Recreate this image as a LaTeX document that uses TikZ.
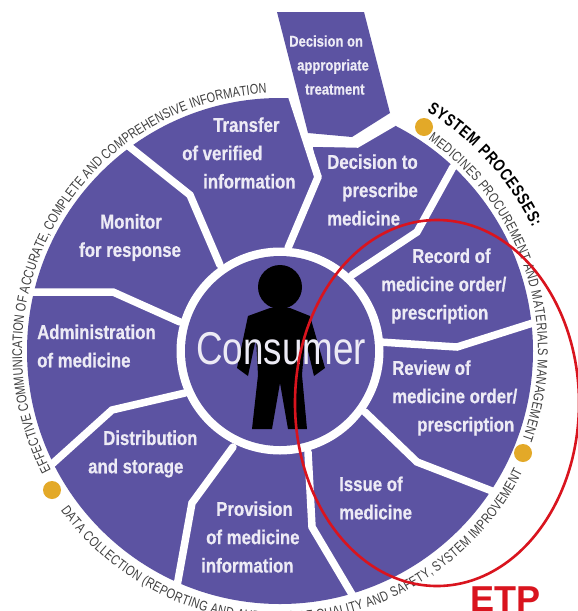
\documentclass[tikz,border=0pt]{standalone}
\usepackage{fontspec}
\usetikzlibrary{decorations.text}
\setmainfont{Liberation Sans}
\newfontfamily\labfont[FakeStretch=.84,FakeBold=.6]{Liberation Sans Bold}
\newfontfamily\arcfont[FakeStretch=.78]{Liberation Sans}
\newfontfamily\arcboldfont[FakeStretch=.78]{Liberation Sans Bold}
\newfontfamily\confont[FakeStretch=.80]{Liberation Sans}
\definecolor{discpurple}{HTML}{5C53A2}
\definecolor{labwhite}{HTML}{EDEBF5}
\definecolor{dotgold}{HTML}{E3A928}
\definecolor{ringred}{HTML}{D9141E}
\tikzset{
  sep/.style={draw=white,line width=7.5pt,line join=miter,line cap=round},
  lab/.style={text=labwhite,anchor=west,align=left,inner sep=0pt,
    font=\labfont\fontsize{20}{28.3}\selectfont},
  labsmall/.style={lab,font=\labfont\fontsize{15.5}{24}\selectfont},
  gold/.style={fill=dotgold,draw=none}
}
\newcommand{\arctext}[5]{% radius, start, end, font, text
  \path[decorate,decoration={text along path,text align={fit to path},
    text={|#4|#5}}] (#2:#1) arc[start angle=#2,end angle=#3,radius=#1];}
\begin{document}
\begin{tikzpicture}[x=1pt,y=-1pt]
\useasboundingbox (0,0) rectangle (578,611);
\clip (0,0) rectangle (578,611);
\fill[white] (0,0) rectangle (578,611);
% main disc
\fill[discpurple] (280,351) circle[radius=253];
% gap at the top of the disc
\fill[white] (292,97) -- (292,80) -- (410,80) -- (393,123) -- (357,144) -- (312,143) -- (318,177) -- cycle;
% separators
\draw[sep] (318,177) -- (292,97);
\draw[sep] (288,248) -- (318,177);
\draw[sep] (453,167) -- (417,232) -- (352,275);
\draw[sep] (380,342) -- (457,347) -- (536,322);
\draw[sep] (365,412) -- (417,462) -- (492,491);
\draw[sep] (308,452) -- (312,527) -- (353,596);
\draw[sep] (233,447) -- (192,503) -- (177,586);
\draw[sep] (185,393) -- (112,410) -- (51,465);
\draw[sep] (180,322) -- (113,292) -- (28,292);
\draw[sep] (220,265) -- (190,195) -- (126,144);
\draw[sep] (312,143) -- (357,144) -- (393,123);
% hub
\fill[white] (280,351) circle[radius=103.5];
\fill[discpurple] (280,351) circle[radius=95];
% person
\fill[black] (280,287) circle[radius=22];
\fill[black] (270,308) -- (290,308) -- (310,316) -- (325,368) -- (314,376) -- (305,338) -- (302,375) -- (307,429) -- (288,429) -- (280,383) -- (272,429) -- (252,429) -- (258,375) -- (256,338) -- (248,376) -- (237,368) -- (248,316) -- cycle;
% top box
\fill[discpurple] (277,12) -- (364,12) -- (390,113) -- (352,137) -- (308,133) -- cycle;
% labels
\node[labsmall] (dapp) at (289,65) {Decision on\\\hspace*{8pt}appropriate\\\hspace*{16pt}treatment};
\node[lab] (dpres) at (327,190) {Decision to\\\hspace*{15pt}prescribe\\medicine};
\node[lab] (rec) at (381,286) {\hspace*{31pt}Record of\\medicine order/\\\hspace*{10pt}prescription};
\node[lab] (rev) at (392,398) {Review of\\medicine order/\\\hspace*{25pt}prescription};
\node[lab] (iss) at (339,498) {Issue of\\medicine};
\node[lab] (prov) at (201,537) {\hspace*{15pt}Provision\\\hspace*{5pt}of medicine\\information};
\node[lab] (dist) at (88,454) {\hspace*{15pt}Distribution\\and storage};
\node[lab] (adm) at (37,346) {Administration\\of medicine};
\node[lab] (mon) at (79,237.5) {\hspace*{21pt}Monitor\\for response};
\node[lab] (tra) at (182,153) {\hspace*{31pt}Transfer\\of verified\\\hspace*{21pt}information};
\node[inner sep=0pt,text=labwhite,font=\confont\fontsize{46}{46}\selectfont] (cons) at (281,349) {Consumer};
% gold dots
\fill[gold] (424,127) circle[radius=9];
\fill[gold] (52,490) circle[radius=9];
\fill[gold] (523,453) circle[radius=9];
% curved captions
\begin{scope}[shift={(280,351)},y=1pt]
\arctext{258}{207.5}{93}{\arcfont\fontsize{14}{15}\selectfont\color{black!75}}{EFFECTIVE COMMUNICATION OF ACCURATE, COMPLETE AND COMPREHENSIVE INFORMATION}
\arctext{281}{58.5}{26}{\arcboldfont\fontsize{17}{18}\selectfont\color{black}}{SYSTEM PROCESSES:}
\arctext{258}{55}{-20}{\arcfont\fontsize{14}{15}\selectfont\color{black!75}}{MEDICINES PROCUREMENT AND MATERIALS MANAGEMENT}
\arctext{271}{216}{333.6}{\arcfont\fontsize{14}{15}\selectfont\color{black!75}}{DATA COLLECTION (REPORTING AND AUDITING) OF QUALITY AND SAFETY, SYSTEM IMPROVEMENT}
\end{scope}
% ETP ring
\draw[ringred,line width=2.6pt] (437,403) ellipse[x radius=142,y radius=183];
\node[anchor=base west,inner sep=0pt,text=ringred,font=\bfseries\fontsize{36}{36}\selectfont] (etp) at (470,611) {ETP};
\end{tikzpicture}
\end{document}
